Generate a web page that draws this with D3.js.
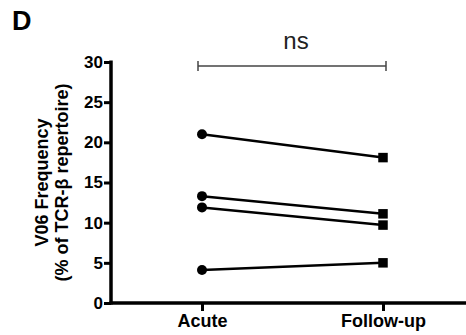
<!DOCTYPE html>
<html>
<head>
<meta charset="utf-8">
<script src="https://cdn.jsdelivr.net/npm/d3@7"></script>
<style>
  body { margin: 0; background: #fff; }
  svg { display: block; font-family: Arial, "Liberation Sans", sans-serif; }
</style>
</head>
<body>
<svg id="chart" width="466" height="335"></svg>
<script>
// data
var groups = ["Acute", "Follow-up"];
var acute = [21, 13.3, 11.9, 4.1];
var followUp = [18.1, 11.1, 9.7, 5];
var yTicks = [0, 5, 10, 15, 20, 25, 30];

var svg = d3.select("#chart");
// plot edges (note: "top" is reserved on window, so use other names)
var plotL = 111, plotR = 466, plotT = 62, plotB = 303;

var x = d3.scalePoint().domain(groups).range([202, 383]);
var y = d3.scaleLinear().domain([0, 30]).range([plotB, plotT]);

// pair up the values per subject
var pairs = acute.map(function(d, i){ return [d, followUp[i]]; });

// y axis
var yAxis = svg.append("g")
	.attr("transform", "translate(" + plotL + ",0)")
	.call(d3.axisLeft(y).tickValues(yTicks).tickSize(7).tickPadding(1));
yAxis.select(".domain").remove();
yAxis.selectAll(".tick line").attr("stroke", "#000").attr("stroke-width", 3);
yAxis.selectAll(".tick text")
	.attr("font-size", "17px").attr("font-weight", "bold")
	.attr("fill", "#000").attr("font-family", "Arial, 'Liberation Sans', sans-serif");
svg.append("line")
	.attr("x1", plotL).attr("x2", plotL)
	.attr("y1", plotT - 1.5).attr("y2", plotB + 1.5)
	.attr("stroke", "#000").attr("stroke-width", 3.5);

// x axis
var xAxis = svg.append("g")
	.attr("transform", "translate(0," + plotB + ")")
	.call(d3.axisBottom(x).tickSize(8).tickPadding(3));
xAxis.select(".domain").remove();
xAxis.selectAll(".tick line").attr("stroke", "#000").attr("stroke-width", 3);
xAxis.selectAll(".tick text")
	.attr("font-size", "18px").attr("font-weight", "bold")
	.attr("fill", "#000").attr("font-family", "Arial, 'Liberation Sans', sans-serif");
svg.append("line")
	.attr("x1", plotL - 1.5).attr("x2", plotR)
	.attr("y1", plotB).attr("y2", plotB)
	.attr("stroke", "#000").attr("stroke-width", 3.5);

// connecting lines
svg.selectAll(".pair")
	.data(pairs)
	.enter().append("line")
	.attr("class", "pair")
	.attr("x1", x("Acute")).attr("x2", x("Follow-up"))
	.attr("y1", function(d){ return y(d[0]); })
	.attr("y2", function(d){ return y(d[1]); })
	.attr("stroke", "#000").attr("stroke-width", 2.5);

// acute = circles
svg.selectAll(".acute")
	.data(acute)
	.enter().append("circle")
	.attr("class", "acute")
	.attr("cx", x("Acute"))
	.attr("cy", function(d){ return y(d); })
	.attr("r", 5)
	.attr("fill", "#000");

// follow-up = squares
var sq = 9.5;
svg.selectAll(".follow")
	.data(followUp)
	.enter().append("rect")
	.attr("class", "follow")
	.attr("x", x("Follow-up") - sq / 2)
	.attr("y", function(d){ return y(d) - sq / 2; })
	.attr("width", sq).attr("height", sq)
	.attr("fill", "#000");

// significance bracket
var bY = 66;
var br = svg.append("g").attr("stroke", "#444").attr("stroke-width", 1.5);
br.append("line").attr("x1", 198).attr("x2", 386).attr("y1", bY).attr("y2", bY);
br.append("line").attr("x1", 198).attr("x2", 198).attr("y1", bY - 5).attr("y2", bY + 5);
br.append("line").attr("x1", 386).attr("x2", 386).attr("y1", bY - 5).attr("y2", bY + 5);
svg.append("text")
	.attr("x", 296).attr("y", 49)
	.attr("text-anchor", "middle")
	.attr("font-size", "24px").attr("fill", "#222")
	.text("ns");

// y axis title, two lines
var midY = (plotT + plotB) / 2;
svg.append("text")
	.attr("transform", "translate(48," + midY + ") rotate(-90)")
	.attr("text-anchor", "middle")
	.attr("font-size", "18px").attr("font-weight", "bold")
	.text("V06 Frequency");
svg.append("text")
	.attr("transform", "translate(68," + midY + ") rotate(-90)")
	.attr("text-anchor", "middle")
	.attr("font-size", "18px").attr("font-weight", "bold")
	.text("(% of TCR-β repertoire)");

// panel letter
svg.append("text")
	.attr("x", 12).attr("y", 30)
	.attr("font-size", "27px").attr("font-weight", "bold")
	.text("D");
</script>
</body>
</html>
